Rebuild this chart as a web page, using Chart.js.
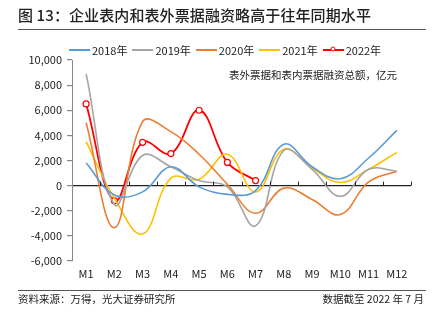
<!DOCTYPE html>
<html>
<head>
<meta charset="utf-8" />
<script src="https://cdn.jsdelivr.net/npm/chart.js@4.4.1/dist/chart.umd.min.js"></script>
<style>
  body { margin:0; width:442px; height:323px; background:#fff; overflow:hidden; font-family:"Noto Sans CJK SC", sans-serif; color:#222; }
  #title { position:absolute; left:18px; top:4px; font-size:15px; font-weight:500; letter-spacing:0.1px; }
  #rule-top { position:absolute; left:18px; top:29px; width:408px; height:0; border-top:1.5px solid #555; }
  #legend { position:absolute; left:69px; top:42px; display:flex; font-size:11px; }
  .item { display:flex; align-items:center; margin-right:5px; }
  .swatch { position:relative; width:21px; height:2px; margin-right:2px; }
  .swatch.dot::after { content:""; position:absolute; left:8px; top:-2px; width:3px; height:3px; border:1.2px solid #ff0000; border-radius:50%; background:#fff; box-sizing:content-box; transform:translate(-0.5px,-0.5px); }
  #unit { position:absolute; left:229px; top:67px; font-size:10.5px; color:#222; }
  #holder { position:absolute; left:0; top:0; width:442px; height:323px; }
  #rule-bottom { position:absolute; left:18px; top:290px; width:408px; height:0; border-top:1.2px solid #555; }
  #source { position:absolute; left:18px; top:291px; font-size:10.5px; }
  #asof { position:absolute; right:18px; top:291px; font-size:10.5px; }
</style>
</head>
<body>
<div id="holder"><canvas id="chart" width="442" height="323"></canvas></div>
<div id="title">图 13：企业表内和表外票据融资略高于往年同期水平</div>
<div id="rule-top"></div>
<div id="legend"></div>
<div id="unit">表外票据和表内票据融资总额，亿元</div>
<div id="rule-bottom"></div>
<div id="source">资料来源：万得，光大证券研究所</div>
<div id="asof">数据截至 2022 年 7 月</div>

<script>
// months on the category axis
const months = ['M1','M2','M3','M4','M5','M6','M7','M8','M9','M10','M11','M12'];

// monthly totals, 亿元
const y2018 = [1800, -750, -500, 1500, -100, -700, -400, 3300, 1500, 550, 2200, 4400];
const y2019 = [8900, -1500, 2400, 1500, 400, -100, -3200, 2800, 1300, -850, 1300, 1150];
const y2020 = [5000, -3350, 5100, 4300, 2500, 100, -2200, -200, -1100, -2300, 300, 1150];
const y2021 = [3500, -1000, -3850, 600, 500, 2500, -500, 2900, 1400, 250, 1300, 2650];
const y2022 = [6500, -1200, 3450, 2550, 6000, 1850, 400];

const seriesNames = ['2018年','2019年','2020年','2021年','2022年'];
const seriesColors = ['#5b9bd5','#a5a5a5','#ed7d31','#ffc000','#ff0000'];

// y axis range
const yMin = -6000, yMax = 10000, yStep = 2000;

function lineSet(i, data) {
  return {
    label: seriesNames[i], data: data,
    borderColor: seriesColors[i], borderWidth: 1.6,
    pointRadius: 0, tension: 0.4, fill: false
  };
}

const red = lineSet(4, y2022);
red.borderWidth = 1.8;
red.pointRadius = 3;
red.pointBackgroundColor = '#fff';
red.pointBorderColor = '#ff0000';
red.pointBorderWidth = 1.2;

// small ticks between months along the zero line
const zeroTicks = {
  id: 'zeroTicks',
  afterDatasetsDraw(chart) {
    const { ctx, chartArea: a } = chart;
    const y0 = chart.scales.y.getPixelForValue(0);
    const w = (a.right - a.left) / months.length;
    ctx.save();
    ctx.strokeStyle = '#222';
    ctx.lineWidth = 1;
    for (let i = 1; i <= months.length; i++) {
      const x = Math.round(a.left + i * w) + 0.5;
      ctx.beginPath(); ctx.moveTo(x, y0); ctx.lineTo(x, y0 - 4); ctx.stroke();
    }
    ctx.restore();
  }
};

new Chart(document.getElementById('chart'), {
  type: 'line',
  data: {
    labels: months,
    datasets: [lineSet(0, y2018), lineSet(1, y2019), lineSet(2, y2020), lineSet(3, y2021), red]
  },
  options: {
    responsive: false, animation: false,
    layout: { padding: { top: 60, right: 31, bottom: 32, left: 0 } },
    plugins: { legend: { display: false }, tooltip: { enabled: false } },
    scales: {
      x: {
        offset: true,
        grid: { display: false, drawTicks: false },
        border: { display: false },
        ticks: { padding: 6, color: '#222', font: { family: 'Noto Sans CJK SC', size: 11 } },
        afterFit(s) { s.height = 30; }
      },
      y: {
        min: yMin, max: yMax,
        ticks: {
          stepSize: yStep, padding: 5, color: '#222',
          font: { family: 'Noto Sans CJK SC', size: 11 },
          callback: v => v.toLocaleString('en-US')
        },
        grid: {
          color: c => c.tick && c.tick.value === 0 ? '#222' : 'rgba(0,0,0,0)',
          lineWidth: 1.2, tickColor: '#888', tickLength: 5
        },
        border: { display: true, color: '#888', width: 1 },
        afterFit(s) { s.width = 72; }
      }
    }
  },
  plugins: [zeroTicks]
});

// legend
const legend = document.getElementById('legend');
seriesNames.forEach((name, i) => {
  const item = document.createElement('div');
  item.className = 'item';
  const sw = document.createElement('span');
  sw.className = 'swatch' + (i === 4 ? ' dot' : '');
  sw.style.background = seriesColors[i];
  const t = document.createElement('span');
  t.textContent = name;
  item.appendChild(sw); item.appendChild(t);
  legend.appendChild(item);
});
</script>
</body>
</html>
